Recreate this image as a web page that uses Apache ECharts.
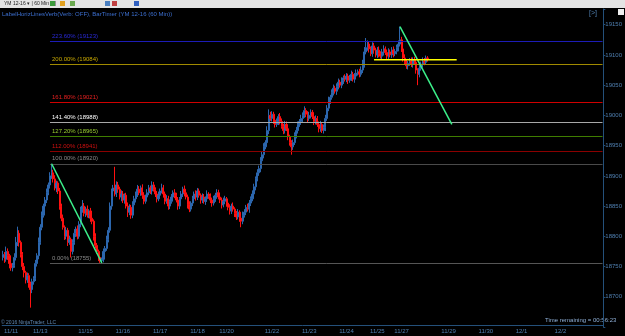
<html>
<head>
<meta charset="utf-8">
<style>
  *{box-sizing: border-box;}
  body,html{margin:0;padding:0;width:100%;height:100%;background:#000;}
  #chart{width:625px;height:336px;}
</style>
<script src="https://cdn.jsdelivr.net/npm/echarts@6/dist/echarts.min.js"></script>
</head>
<body>
<div id="chart"></div>
<script>
// hourly closes, YM 12-16 (60 Min)
var firstOpen = 18765;
var closes = [
  18770,18762,18775,18768,18755,18748,18752,18765,18790,18805,
  18790,18770,18750,18740,18728,18735,18722,18712,18725,18730,
  18755,18768,18790,18815,18835,18850,18860,18872,18885,18900,
  18905,18895,18880,18888,18875,18850,18830,18815,18800,18810,
  18790,18795,18775,18790,18805,18812,18800,18820,18845,18850,
  18838,18845,18835,18842,18830,18825,18800,18785,18775,18765,
  18760,18762,18775,18780,18795,18810,18850,18875,18880,18870,
  18885,18878,18865,18870,18860,18868,18850,18840,18848,18835,
  18852,18862,18870,18878,18872,18880,18868,18858,18865,18872,
  18880,18875,18885,18878,18870,18862,18868,18875,18880,18870,
  18858,18862,18850,18858,18865,18872,18868,18860,18850,18862,
  18870,18878,18872,18865,18852,18845,18855,18862,18870,18865,
  18875,18868,18860,18865,18858,18862,18870,18866,18860,18855,
  18862,18868,18872,18865,18860,18852,18858,18862,18855,18848,
  18842,18850,18845,18838,18832,18840,18830,18825,18835,18840,
  18848,18845,18855,18862,18870,18882,18895,18905,18912,18925,
  18935,18948,18955,18975,19000,18995,19002,18992,18985,18990,
  18998,18990,18982,18975,18985,18978,18965,18955,18948,18955,
  18968,18975,18985,18990,18995,19000,19008,19002,18995,19000,
  19005,18998,18990,18995,18985,18978,18985,18975,18980,18995,
  19012,19025,19030,19038,19045,19040,19048,19055,19050,19058,
  19062,19060,19065,19058,19062,19068,19060,19065,19070,19072,
  19068,19075,19085,19105,19112,19118,19110,19102,19115,19108,
  19100,19108,19102,19098,19105,19110,19104,19098,19105,19100,
  19108,19102,19106,19112,19118,19125,19110,19095,19088,19082,
  19086,19090,19085,19092,19088,19075,19068,19078,19085,19090,
  19088,19095,19094
];
// wick lengths above / below the body
var wickUp = [
  6,4,8,5,3,6,4,7,9,11, 5,3,4,6,3,5,4,3,5,4, 6,4,8,5,6,4,5,7,4,6,
  15,5,6,4,3,5,4,6,3,5, 4,6,3,5,7,4,6,5,4,10, 5,4,6,3,5,4,3,5,4,3,
  4,3,5,4,6,5,6,4,5,35, 6,5,4,6,5,3,4,6,5,4, 6,5,4,7,5,4,6,5,4,6,
  5,4,6,5,3,5,6,4,7,5, 4,6,5,3,5,4,6,4,5,3, 5,4,6,5,4,6,3,5,4,6,
  5,4,3,6,5,4,6,3,5,4, 5,4,6,5,3,4,6,5,3,4, 5,4,6,3,4,5,3,4,6,5,
  4,6,5,4,6,5,4,6,5,6, 5,6,4,7,10,6,5,4,6,5, 4,6,5,4,6,5,4,3,4,5,
  4,6,5,4,6,5,7,4,5,6, 5,4,6,5,4,5,6,4,5,6, 5,6,4,5,6,4,5,6,4,5,
  4,6,5,4,5,6,4,5,6,4, 5,6,7,8,16,6,5,4,6,5, 4,5,6,4,5,6,4,5,6,4,
  5,6,4,5,6,22,5,4,6,5, 4,5,6,4,5,4,3,5,4,6, 5,4,3
];
var wickDn = [
  5,6,4,7,8,5,6,4,5,6, 7,5,6,8,6,5,7,30,6,5, 4,5,6,4,5,4,6,5,4,6,
  5,6,4,7,5,6,5,4,6,5, 6,4,10,5,4,6,5,4,5,6, 5,6,4,5,6,5,7,5,4,6,
  4,5,5,6,4,5,4,6,5,4, 5,6,4,7,5,6,4,8,5,6, 5,4,6,5,4,5,6,5,4,5,
  4,5,6,4,5,6,4,5,4,6, 5,4,6,5,4,6,5,4,6,5, 4,5,6,4,6,5,4,5,4,6,
  5,4,6,5,4,6,5,4,5,6, 4,5,6,4,5,6,4,5,6,5, 6,5,4,6,5,4,6,10,5,4,
  5,4,6,5,4,5,6,4,5,6, 5,6,4,5,6,4,5,6,5,4, 6,5,4,6,5,4,6,5,13,5,
  4,6,5,4,5,6,4,5,6,4, 5,4,6,5,4,6,5,4,5,6, 4,5,6,4,5,4,6,5,4,5,
  6,4,5,6,4,5,4,6,5,4, 5,4,5,6,4,5,6,4,5,6, 4,5,6,4,5,6,4,5,6,4,
  5,6,4,5,6,4,5,6,4,5, 6,4,5,6,4,6,18,5,4,6, 5,4,5
];

// x axis: total hourly slots incl. empty future space, and date label slots
var slotCount = 371;
var dateLabels = ['11/11','11/13','11/15','11/16','11/17','11/18','11/20','11/22','11/23','11/24','11/25','11/27','11/29','11/30','12/1','12/2'];
var dateSlots  = [5, 23, 51, 74, 97, 120, 138, 166, 189, 212, 231, 246, 275, 298, 320, 344];

// fibonacci levels
var fibPct    = ['223.60%','200.00%','161.80%','141.40%','127.20%','112.00%','100.00%','0.00%'];
var fibValues = [19123, 19084, 19021, 18988, 18965, 18941, 18920, 18755];
var fibLine   = ['#1c1cb8','#a08a00','#d00000','#a8a8a8','#3f7d00','#8b0000','#4a4a4a','#555555'];
var fibText   = ['#2a2ad8','#c8a800','#e82020','#ffffff','#9acd32','#d01010','#8a8a8a','#8a8a8a'];
var fibStart = 29;

// drawn lines [slot, price]
var trend1 = [[30, 18920], [61, 18756]];
var trend2 = [[245, 19147], [277, 18985]];
var yellowLine = [[229, 19092], [280, 19092]];
var lastPrice = 19094;

var cats = [];
for (var i = 0; i < slotCount; i++) cats.push('');
for (var d = 0; d < dateLabels.length; d++) cats[dateSlots[d]] = dateLabels[d];

var ohlc = [];
var prev = firstOpen;
for (var i = 0; i < closes.length; i++) {
  var o = prev, c = closes[i];
  ohlc.push([o, c, Math.min(o, c) - wickDn[i], Math.max(o, c) + wickUp[i]]);
  prev = c;
}

var fibMarks = [];
for (var k = 0; k < fibValues.length; k++) {
  fibMarks.push([
    {coord: [fibStart, fibValues[k]], lineStyle: {color: fibLine[k], width: 1, type: 'solid'},
     label: {show: true, position: 'insideStartTop', distance: 2, color: fibText[k],
             formatter: fibPct[k] + ' (' + fibValues[k] + ')'}},
    {coord: [slotCount - 1, fibValues[k]]}
  ]);
}
fibMarks.push({yAxis: lastPrice, lineStyle: {opacity: 0},
  label: {show: true, position: 'end', distance: 2, formatter: String(lastPrice), color: '#000',
          backgroundColor: '#f4c20d', padding: [1, 2, 0, 2], fontSize: 6}});

var font = 'Liberation Sans';
var chart = echarts.init(document.getElementById('chart'));
chart.setOption({
  backgroundColor: '#000',
  animation: false,
  textStyle: {fontFamily: font},
  grid: {left: 0, right: 20, top: 9, bottom: 9},
  xAxis: {
    type: 'category', data: cats, boundaryGap: true, offset: -2,
    axisLine: {lineStyle: {color: '#24507a'}},
    axisTick: {show: false},
    axisLabel: {interval: 0, color: '#4f7fb0', fontSize: 6, margin: 3, fontFamily: font},
    splitLine: {show: false}
  },
  yAxis: {
    type: 'value', position: 'right', min: 18650, max: 19176, interval: 50, scale: true,
    axisLine: {show: true, lineStyle: {color: '#24507a'}},
    axisTick: {show: true, length: 2, lineStyle: {color: '#24507a'}},
    axisLabel: {color: '#4f7fb0', fontSize: 6, margin: 2, fontFamily: font,
      formatter: function (v) { return v <= 18650 || v > 19150 ? '' : v; }},
    splitLine: {show: false}
  },
  series: [
    {
      type: 'candlestick', name: 'YM 12-16', data: ohlc, barWidth: 1.6,
      itemStyle: {color: '#2c66ad', color0: '#ff1010', borderColor: '#2c66ad', borderColor0: '#ff1010', borderWidth: 1},
      markLine: {silent: true, symbol: 'none', animation: false,
        label: {fontSize: 6, fontFamily: font}, data: fibMarks}
    },
    {type: 'line', data: trend1, symbol: 'none', lineStyle: {color: '#3cf08a', width: 1.5}, z: 5},
    {type: 'line', data: trend2, symbol: 'none', lineStyle: {color: '#3cf08a', width: 1.5}, z: 5},
    {type: 'line', data: yellowLine, symbol: 'none', lineStyle: {color: '#ffff00', width: 1.5}, z: 5}
  ],
  graphic: [
    {type: 'rect', left: 0, top: 0, shape: {width: 625, height: 8}, style: {fill: '#e4e4e4'}},
    {type: 'text', left: 4, top: 1, style: {text: 'YM 12-16 \u25BE | 60 Min \u25BE |', fill: '#222', fontSize: 5, fontFamily: font}},
    {type: 'rect', left: 50, top: 1, shape: {width: 5, height: 5}, style: {fill: '#3c9a3c'}},
    {type: 'rect', left: 60, top: 1, shape: {width: 5, height: 5}, style: {fill: '#e0a020'}},
    {type: 'rect', left: 70, top: 1, shape: {width: 5, height: 5}, style: {fill: '#6aa84f'}},
    {type: 'rect', left: 105, top: 1, shape: {width: 5, height: 5}, style: {fill: '#4a7fc0'}},
    {type: 'rect', left: 112, top: 1, shape: {width: 5, height: 5}, style: {fill: '#c04040'}},
    {type: 'rect', left: 134, top: 1, shape: {width: 5, height: 5}, style: {fill: '#3060c0'}},
    {type: 'text', left: 2, top: 11, style: {text: 'LabelHorizLinesVerb(Verb: OFF), BarTimer (YM 12-16 (60 Min))', fill: '#3c6fd0', fontSize: 6, fontFamily: font}},
    {type: 'text', left: 589, top: 10, style: {text: '[>]', fill: '#4f7fb0', fontSize: 7, fontFamily: font}},
    {type: 'rect', left: 618, top: 9, shape: {width: 6, height: 6}, style: {fill: '#f0f0f0'}},
    {type: 'text', left: 1, top: 320, style: {text: '\u00A9 2016 NinjaTrader, LLC', fill: '#5f87b0', fontSize: 5, fontFamily: font}},
    {type: 'text', left: 545, top: 317, style: {text: 'Time remaining = 00:56:23', fill: '#8fb0d8', fontSize: 6, fontFamily: font}}
  ]
});
</script>
</body>
</html>
